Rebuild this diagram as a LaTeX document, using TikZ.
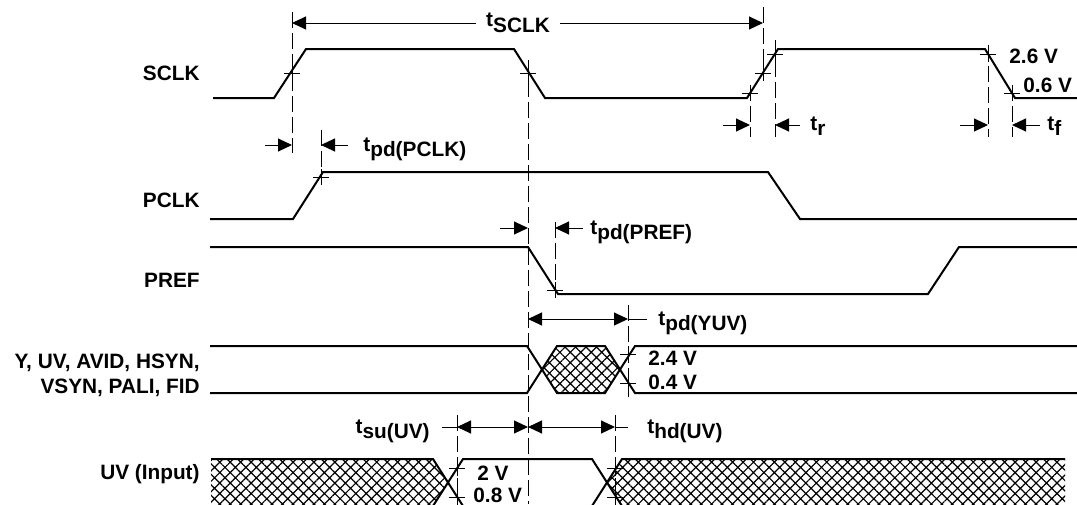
\documentclass[tikz,border=0pt]{standalone}
\usepackage{fontspec}
\setmainfont{Liberation Sans}
\usetikzlibrary{arrows.meta,patterns.meta}
\newcommand{\tsub}[1]{t\raisebox{-0.28em}{#1}}

\begin{document}
\begin{tikzpicture}[x=0.5pt,y=-0.5pt,
  every node/.style={font=\fontsize{10.4pt}{12pt}\selectfont\bfseries,inner sep=0pt},
  sig/.style={line width=1pt},
  guide/.style={line width=0.5pt,dash pattern=on 8pt off 2.5pt},
  tick/.style={line width=0.5pt},
  dimto/.style={line width=0.5pt,-{Triangle[length=7pt,width=6.5pt]}},
  dimboth/.style={line width=0.5pt,{Triangle[length=7pt,width=6.5pt]}-{Triangle[length=7pt,width=6.5pt]}},
  hatched/.style={pattern={Hatch[angle=45,distance=3.7pt,line width=0.6pt]}}]
\useasboundingbox (0,0) rectangle (1077,504);

% Hatching ..
\path[hatched] (542,369.5) -- (557,346) -- (605,346) -- (620,369.5) -- (605,393) -- (557,393) -- cycle; % YUV invalid
\path[hatched] (211,459) -- (433,459) -- (448,482.5) -- (433,506) -- (211,506) -- cycle; % UV in, before
\path[hatched] (607,482.5) -- (622,459) -- (1065,459) -- (1065,506) -- (622,506) -- cycle; % UV in, after

% Signals
\draw[sig] (213,98) -- (274,98) -- (306,49) -- (514,49) -- (545,98) -- (747,98) -- (778,49) -- (985,49) -- (1015,98) -- (1077,98); % SCLK
\draw[sig] (210,219) -- (293,219) -- (323,172) -- (768,172) -- (800,219) -- (1077,219); % PCLK
\draw[sig] (210,247) -- (528,247) -- (558,294) -- (928,294) -- (959,247) -- (1077,247); % PREF
\draw[sig] (210,346) -- (527,346) -- (557,393) -- (605,393) -- (635,346) -- (1077,346); % outputs
\draw[sig] (210,393) -- (527,393) -- (557,346) -- (605,346) -- (635,393) -- (1077,393);
\draw[sig] (211,459) -- (433,459) -- (463,506); % UV in
\draw[sig] (433,506) -- (463,459) -- (592,459) -- (622,506);
\draw[sig] (592,506) -- (622,459) -- (1065,459);

% Reference lines
\foreach \x/\ya/\yb in {292/12/153, 528/60/504, 763/7/80, 750/85/137, 775/40/137,
  988/45/137, 1012/85/137, 321/130/180, 555/222/297, 628/305/397, 457/415/504, 615/415/504}
  \draw[guide] (\x,\ya) -- (\x,\yb);
\foreach \x/\y in {292/73, 528/73, 750/93, 763/73, 775/54, 988/54, 1012/93, 321/177,
  555/290, 628/354, 628/383, 457/468, 457/497, 615/468, 615/497}
  \draw[tick] (\x-8,\y) -- (\x+8,\y) (\x,\y-8) -- (\x,\y+8);

% Writing
\node[anchor=base east] (sclk) at (200,80) {SCLK}; % signal names
\node[anchor=base east] (pclk) at (200,207) {PCLK};
\node[anchor=base east] (pref) at (200,287) {PREF};
\node[anchor=base east] (outa) at (200,368) {Y, UV, AVID, HSYN,};
\node[anchor=base east] (outb) at (200,393) {VSYN, PALI, FID};
\node[anchor=base east] (uvin) at (200,479) {UV (Input)};

\node[fill=white,inner xsep=5pt] (tsclk) at (518,23) {\tsub{SCLK}}; % times
\node[anchor=base west] (tpdpclk) at (363,151) {\tsub{pd(PCLK)}};
\node[anchor=base west] (tr) at (810,130) {\tsub{r}};
\node[anchor=base west] (tf) at (1047,130) {\tsub{f}};
\node[anchor=base west] (tpdpref) at (590,234) {\tsub{pd(PREF)}};
\node[anchor=base west] (tpdyuv) at (658,325) {\tsub{pd(YUV)}};
\node[anchor=base east] (tsu) at (430,433) {\tsub{su(UV)}};
\node[anchor=base west] (thd) at (647,433) {\tsub{hd(UV)}};

\node[anchor=base west] (va) at (1009,63) {2.6 V}; % levels
\node[anchor=base west] (vb) at (1023,92) {0.6 V};
\node[anchor=base west] (vc) at (648,365) {2.4 V};
\node[anchor=base west] (vd) at (648,389) {0.4 V};
\node[anchor=base west] (ve) at (477,480) {2 V};
\node[anchor=base west] (vf) at (473,502) {0.8 V};

% Time arrows
\draw[dimto] (tsclk.west) -- (292,23);
\draw[dimto] (tsclk.east) -- (763,23);
\draw[dimto] (265,145) -- (292,145);
\draw[dimto] (348,145) -- (321,145);
\draw[dimto] (723,125) -- (750,125);
\draw[dimto] (800,125) -- (775,125);
\draw[dimto] (960,125) -- (988,125);
\draw[dimto] (1040,125) -- (1012,125);
\draw[dimto] (500,228) -- (528,228);
\draw[dimto] (583,228) -- (555,228);
\draw[dimboth] (528,319) -- (628,319);
\draw[tick] (628,319) -- (647,319);
\draw[dimboth] (457,427) -- (528,427);
\draw[dimboth] (528,427) -- (615,427);
\draw[tick] (442,427) -- (457,427) (615,427) -- (628,427);
\end{tikzpicture}
\end{document}
